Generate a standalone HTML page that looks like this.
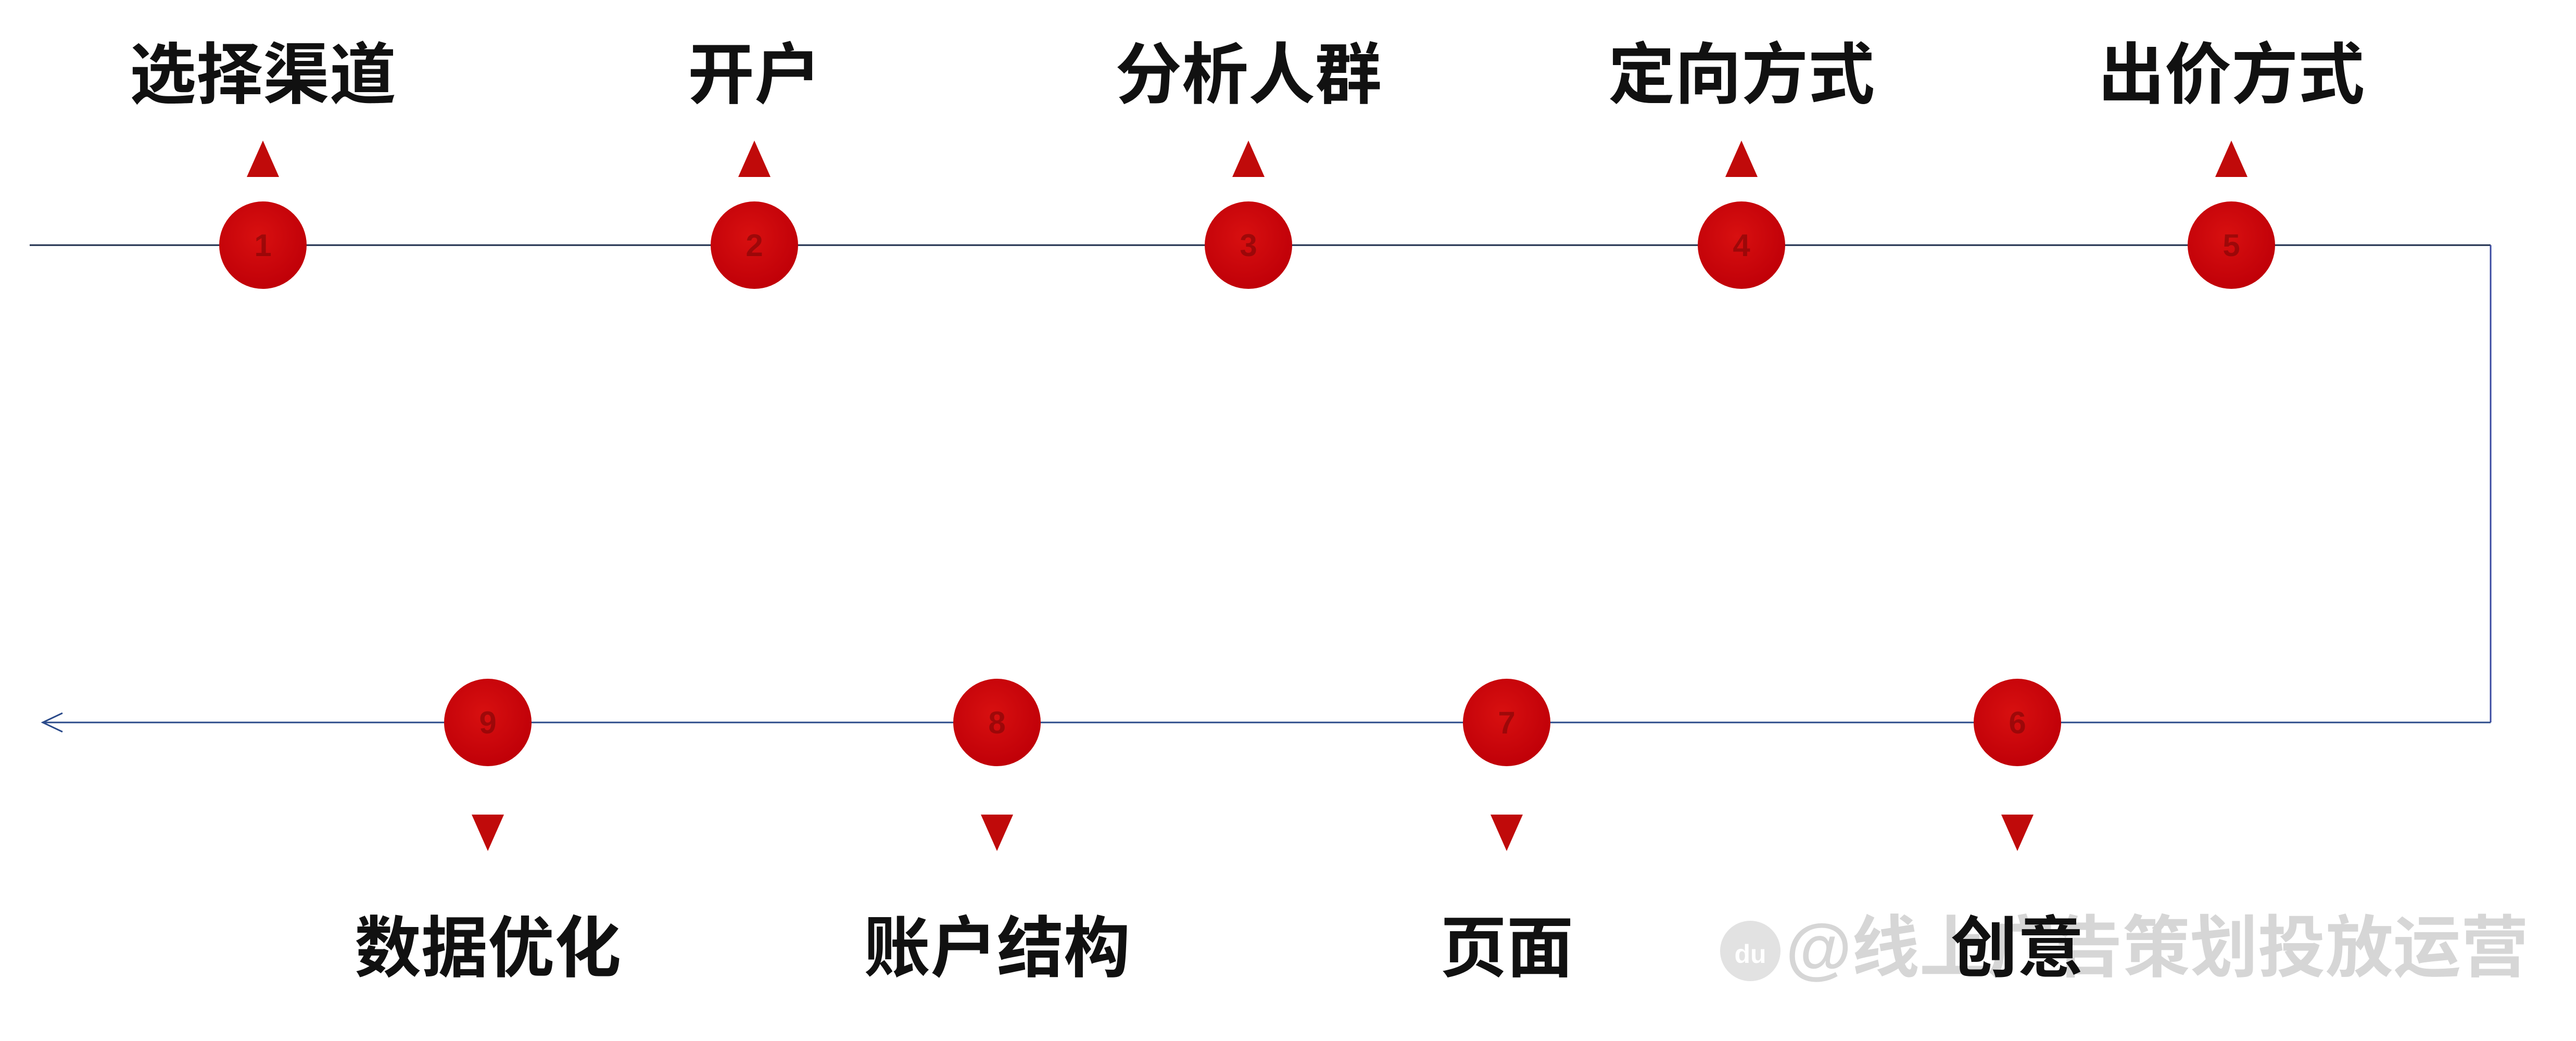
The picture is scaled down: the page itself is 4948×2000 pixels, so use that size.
<!DOCTYPE html>
<html><head><meta charset="utf-8"><style>
html,body{margin:0;padding:0;background:#fff;width:4948px;height:2000px;overflow:hidden}
text{font-family:"Liberation Sans","Noto Sans CJK SC",sans-serif;font-weight:bold}
</style></head><body>
<svg width="4948" height="2000" viewBox="0 0 4948 2000" xmlns="http://www.w3.org/2000/svg">
<defs>
<radialGradient id="g" cx="0.45" cy="0.4" r="0.6">
<stop offset="0" stop-color="#d81010"/><stop offset="1" stop-color="#c00008"/>
</radialGradient>
</defs>
<g stroke="#1a2a4a" stroke-width="3" fill="none">
<line x1="57" y1="471" x2="4784" y2="471"/>
<line x1="4784" y1="471" x2="4784" y2="1388" stroke="#3a4aa0"/>
<line x1="4784" y1="1388" x2="82" y2="1388" stroke="#2a4a8a"/>
<polyline points="120,1370 82,1388 120,1406" stroke="#2a4a8a"/>
</g>
<g fill="url(#g)">
<circle cx="505" cy="471" r="84"/><circle cx="1449" cy="471" r="84"/><circle cx="2398" cy="471" r="84"/><circle cx="3345" cy="471" r="84"/><circle cx="4286" cy="471" r="84"/>
<circle cx="937" cy="1388" r="84"/><circle cx="1915" cy="1388" r="84"/><circle cx="2894" cy="1388" r="84"/><circle cx="3875" cy="1388" r="84"/>
</g>
<g fill="#7a0606" font-size="60" text-anchor="middle" opacity="0.6">
<text x="505" y="492">1</text><text x="1449" y="492">2</text><text x="2398" y="492">3</text><text x="3345" y="492">4</text><text x="4286" y="492">5</text>
<text x="937" y="1409">9</text><text x="1915" y="1409">8</text><text x="2894" y="1409">7</text><text x="3875" y="1409">6</text>
</g>
<g fill="#c00a0a">
<polygon points="505,270 474,340 536,340"/><polygon points="1449,270 1418,340 1480,340"/><polygon points="2398,270 2367,340 2429,340"/><polygon points="3345,270 3314,340 3376,340"/><polygon points="4286,270 4255,340 4317,340"/>
<polygon points="937,1635 906,1565 968,1565"/><polygon points="1915,1635 1884,1565 1946,1565"/><polygon points="2894,1635 2863,1565 2925,1565"/><polygon points="3875,1635 3844,1565 3906,1565"/>
</g>
<circle cx="3362" cy="1827" r="58" fill="#e2e2e2"/>
<text x="3362" y="1850" font-size="50" fill="#fff" text-anchor="middle">du</text>
<text x="3430" y="1866" font-size="130" fill="#d6d6d6" font-weight="normal">@线上广告策划投放运营</text>
<g fill="#111" font-size="128" text-anchor="middle">
<text x="505" y="188">选择渠道</text><text x="1449" y="188">开户</text><text x="2398" y="188">分析人群</text><text x="3345" y="188">定向方式</text><text x="4286" y="188">出价方式</text>
<text x="937" y="1866">数据优化</text><text x="1915" y="1866">账户结构</text><text x="2894" y="1866">页面</text><text x="3875" y="1866">创意</text>
</g>
</svg>
</body></html>
